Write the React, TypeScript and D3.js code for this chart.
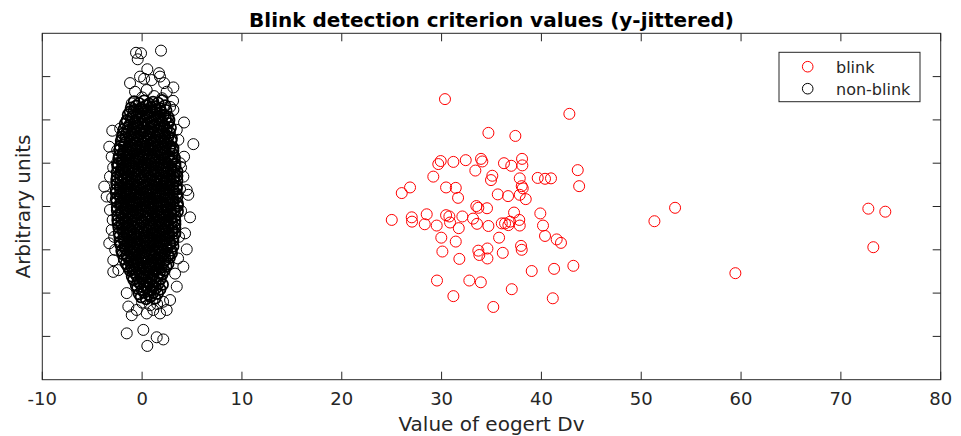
import React from "react";
import * as d3 from "d3";

// ---------- data ----------
const xTicks = [-10, 0, 10, 20, 30, 40, 50, 60, 70, 80];
const yTicks = [1, 2, 3, 4, 5, 6, 7];
const legendLabels = ["blink", "non-blink"];

// blink events: [Dv value, jittered y]
const blinkPoints: [number, number][] = [
  [30.34, 6.48], [42.8, 6.14], [34.69, 5.7], [37.39, 5.63], [29.91, 5.05], [29.67, 4.98],
  [31.18, 5.03], [32.42, 5.07], [33.95, 5.1], [34.08, 5.04], [33.38, 4.83], [36.25, 5.0],
  [36.98, 4.94], [38.06, 5.1], [38.09, 4.95], [43.64, 4.84], [29.17, 4.69], [35.08, 4.71],
  [34.95, 4.61], [37.83, 4.65], [39.63, 4.66], [40.36, 4.64], [40.96, 4.65], [43.78, 4.47],
  [26.84, 4.44], [26.01, 4.31], [30.45, 4.44], [31.42, 4.43], [31.65, 4.2], [38.03, 4.47],
  [38.13, 4.42], [35.63, 4.28], [36.66, 4.24], [37.83, 4.27], [38.43, 4.17], [33.48, 4.01],
  [33.68, 3.97], [34.55, 3.96], [37.26, 3.86], [39.89, 3.84], [25.01, 3.69], [27.01, 3.75],
  [27.04, 3.65], [28.51, 3.82], [28.31, 3.59], [29.51, 3.56], [30.45, 3.8], [30.78, 3.77],
  [30.85, 3.63], [31.72, 3.5], [32.08, 3.77], [33.15, 3.72], [33.55, 3.6], [34.69, 3.55],
  [36.03, 3.61], [36.36, 3.61], [36.69, 3.57], [36.86, 3.65], [37.78, 3.69], [37.83, 3.56],
  [40.16, 3.56], [29.97, 3.28], [31.42, 3.19], [35.76, 3.28], [40.36, 3.32], [41.53, 3.24],
  [41.96, 3.16], [30.08, 2.96], [31.78, 2.79], [33.68, 2.98], [33.78, 2.88], [34.59, 3.03],
  [34.59, 2.8], [36.13, 2.93], [37.96, 3.09], [38.03, 3.0], [39.03, 2.51], [41.27, 2.56],
  [43.2, 2.63], [29.54, 2.29], [32.78, 2.29], [33.93, 2.25], [37.03, 2.09], [31.18, 1.93],
  [41.14, 1.88], [35.18, 1.68], [51.32, 3.66], [53.39, 3.97], [59.43, 2.46], [72.75, 3.95],
  [74.45, 3.88], [73.25, 3.06],
];

// non-blink: loose points around the dense cluster
const nonBlinkOuter: [number, number][] = [
  [-0.61, 7.55], [-0.11, 7.54], [-0.44, 7.4], [1.89, 7.6], [0.52, 7.17], [1.69, 7.08],
  [-1.21, 6.85], [3.13, 6.75], [3.1, 6.44], [3.13, 6.23], [-2.99, 5.75], [-3.29, 5.38],
  [-3.05, 5.15], [5.13, 5.44], [4.2, 5.94], [4.2, 5.15], [-3.79, 4.46], [4.63, 4.27],
  [4.8, 3.75], [4.47, 3.01], [-3.29, 3.15], [-2.95, 3.69], [-2.89, 2.49], [-1.54, 1.07],
  [0.12, 1.15], [1.46, 0.98], [2.12, 0.93], [0.52, 0.78], [-0.21, 7.0], [0.96, 6.92],
  [1.79, 7.0], [-0.71, 6.65], [0.46, 6.69], [2.46, 6.65], [-1.04, 6.38], [2.8, 6.3],
  [-1.54, 6.0], [3.47, 5.77], [3.63, 5.54], [-2.04, 5.54], [-2.54, 5.0], [3.8, 5.0],
  [-3.22, 4.69], [4.13, 4.69], [-3.55, 4.23], [4.47, 4.38], [-3.22, 3.92], [-3.05, 3.46],
  [-2.89, 2.76], [-2.38, 2.53], [4.3, 3.38], [4.13, 2.61], [3.47, 2.15], [-1.38, 1.69],
  [-1.04, 1.49], [0.46, 1.53], [1.79, 1.53], [2.8, 1.84], [-1.54, 2.0], [-0.54, 1.61],
  [1.12, 1.61], [2.46, 1.61], [3.9, 4.9], [3.8, 4.4], [3.9, 3.9], [3.7, 3.3], [3.6, 2.8],
  [3.3, 2.45], [-2.9, 4.9], [-3.0, 4.2], [-2.8, 3.3], [-2.7, 3.0], [-2.5, 5.3], [-2.2, 5.8],
  [1.2, 6.55], [0.0, 6.52], [2.0, 6.5], [2.2, 6.85], [0.2, 6.95], [0.0, 1.78], [0.8, 1.72],
  [1.5, 1.75], [2.1, 1.8],
];

// non-blink: dense core of the cluster
const nonBlinkCore: [number, number][] = [
  [-0.8, 6.42], [-0.3, 6.38], [0.2, 6.44], [0.7, 6.37], [1.1, 6.41], [1.6, 6.39], [2.0, 6.45],
  [-1.1, 6.28], [-0.6, 6.32], [-0.1, 6.27], [0.4, 6.33], [0.9, 6.29], [1.3, 6.31], [1.8, 6.26], [2.3, 6.33],
  [-1.2, 6.19], [-0.8, 6.22], [-0.35, 6.18], [0.1, 6.23], [0.55, 6.17], [1.0, 6.21], [1.45, 6.24], [1.9, 6.18], [2.4, 6.22],
  [-1.4, 6.12], [-0.95, 6.08], [-0.5, 6.11], [-0.05, 6.07], [0.35, 6.13], [0.8, 6.09], [1.25, 6.12], [1.7, 6.08], [2.15, 6.11], [2.6, 6.07],
  [-1.5, 5.98], [-1.1, 6.03], [-0.7, 5.97], [-0.25, 6.02], [0.2, 5.99], [0.6, 6.04], [1.05, 5.97], [1.5, 6.01], [1.9, 5.98], [2.35, 6.03], [2.7, 5.99],
  [-1.7, 5.91], [-1.25, 5.88], [-0.8, 5.92], [-0.4, 5.87], [0.05, 5.91], [0.45, 5.89], [0.9, 5.93], [1.3, 5.88], [1.75, 5.9], [2.2, 5.87], [2.6, 5.92],
  [-1.8, 5.79], [-1.4, 5.82], [-0.95, 5.78], [-0.55, 5.81], [-0.1, 5.77], [0.3, 5.82], [0.75, 5.79], [1.15, 5.83], [1.6, 5.78], [2.0, 5.81], [2.45, 5.77], [2.85, 5.82],
  [-1.9, 5.68], [-1.5, 5.72], [-1.05, 5.67], [-0.65, 5.71], [-0.2, 5.69], [0.2, 5.73], [0.65, 5.67], [1.05, 5.71], [1.5, 5.68], [1.9, 5.72], [2.3, 5.67], [2.75, 5.71],
  [-2.0, 5.61], [-1.6, 5.58], [-1.2, 5.62], [-0.75, 5.57], [-0.35, 5.61], [0.1, 5.59], [0.5, 5.63], [0.9, 5.57], [1.35, 5.6], [1.75, 5.62], [2.2, 5.58], [2.6, 5.61], [2.95, 5.57],
  [-2.1, 5.52], [-1.7, 5.48], [-1.25, 5.51], [-0.85, 5.47], [-0.45, 5.53], [0.0, 5.49], [0.4, 5.51], [0.85, 5.47], [1.25, 5.52], [1.65, 5.48], [2.1, 5.51], [2.5, 5.47], [2.9, 5.52],
  [-2.2, 5.39], [-1.8, 5.42], [-1.35, 5.38], [-0.95, 5.41], [-0.55, 5.37], [-0.1, 5.42], [0.3, 5.39], [0.75, 5.43], [1.15, 5.38], [1.6, 5.41], [2.0, 5.37], [2.4, 5.42], [2.85, 5.39], [3.1, 5.35],
  [-2.25, 5.31], [-1.85, 5.27], [-1.45, 5.32], [-1.0, 5.28], [-0.6, 5.31], [-0.2, 5.27], [0.25, 5.32], [0.65, 5.29], [1.05, 5.33], [1.5, 5.28], [1.9, 5.31], [2.3, 5.27], [2.75, 5.32], [3.1, 5.29],
  [-2.3, 5.18], [-1.9, 5.22], [-1.5, 5.19], [-1.1, 5.23], [-0.65, 5.17], [-0.25, 5.21], [0.15, 5.18], [0.6, 5.22], [1.0, 5.17], [1.4, 5.21], [1.85, 5.19], [2.25, 5.23], [2.65, 5.17], [3.05, 5.21],
  [-2.35, 5.11], [-1.95, 5.08], [-1.55, 5.12], [-1.15, 5.07], [-0.7, 5.11], [-0.3, 5.09], [0.1, 5.13], [0.55, 5.08], [0.95, 5.11], [1.35, 5.07], [1.8, 5.12], [2.2, 5.09], [2.6, 5.13], [3.0, 5.08], [3.25, 5.12],
  [-2.4, 4.98], [-2.0, 5.02], [-1.6, 4.97], [-1.2, 5.01], [-0.8, 4.99], [-0.35, 5.03], [0.05, 4.97], [0.45, 5.01], [0.9, 4.98], [1.3, 5.02], [1.7, 4.97], [2.15, 5.01], [2.55, 4.99], [2.95, 5.03], [3.3, 4.98],
  [-2.45, 4.91], [-2.05, 4.87], [-1.65, 4.92], [-1.25, 4.88], [-0.85, 4.91], [-0.4, 4.87], [0.0, 4.92], [0.4, 4.89], [0.85, 4.93], [1.25, 4.88], [1.65, 4.91], [2.1, 4.87], [2.5, 4.92], [2.9, 4.88], [3.3, 4.91],
  [-2.5, 4.79], [-2.1, 4.82], [-1.7, 4.78], [-1.3, 4.81], [-0.9, 4.77], [-0.45, 4.82], [-0.05, 4.79], [0.35, 4.83], [0.8, 4.78], [1.2, 4.81], [1.6, 4.77], [2.05, 4.82], [2.45, 4.79], [2.85, 4.83], [3.25, 4.78], [3.5, 4.81],
  [-2.5, 4.68], [-2.1, 4.72], [-1.75, 4.67], [-1.35, 4.71], [-0.95, 4.69], [-0.5, 4.73], [-0.1, 4.67], [0.3, 4.71], [0.75, 4.68], [1.15, 4.72], [1.55, 4.67], [2.0, 4.71], [2.4, 4.69], [2.8, 4.73], [3.2, 4.67], [3.5, 4.71],
  [-2.55, 4.61], [-2.15, 4.58], [-1.75, 4.62], [-1.4, 4.57], [-1.0, 4.61], [-0.55, 4.59], [-0.15, 4.63], [0.25, 4.57], [0.7, 4.6], [1.1, 4.62], [1.5, 4.58], [1.95, 4.61], [2.35, 4.57], [2.75, 4.62], [3.15, 4.59], [3.5, 4.6],
  [-2.55, 4.52], [-2.2, 4.48], [-1.8, 4.51], [-1.4, 4.47], [-1.0, 4.53], [-0.6, 4.49], [-0.2, 4.51], [0.2, 4.47], [0.65, 4.52], [1.05, 4.48], [1.45, 4.51], [1.9, 4.47], [2.3, 4.53], [2.7, 4.49], [3.1, 4.51], [3.45, 4.47],
  [-2.6, 4.39], [-2.2, 4.42], [-1.85, 4.38], [-1.45, 4.41], [-1.05, 4.37], [-0.6, 4.42], [-0.2, 4.39], [0.2, 4.43], [0.6, 4.38], [1.05, 4.41], [1.45, 4.37], [1.85, 4.42], [2.25, 4.39], [2.7, 4.43], [3.1, 4.38], [3.45, 4.41],
  [-2.6, 4.31], [-2.25, 4.27], [-1.85, 4.32], [-1.45, 4.28], [-1.05, 4.31], [-0.65, 4.27], [-0.25, 4.32], [0.15, 4.29], [0.6, 4.33], [1.0, 4.28], [1.4, 4.31], [1.8, 4.27], [2.25, 4.32], [2.65, 4.28], [3.05, 4.31], [3.45, 4.29],
  [-2.6, 4.18], [-2.2, 4.22], [-1.8, 4.19], [-1.4, 4.23], [-1.0, 4.17], [-0.6, 4.21], [-0.2, 4.18], [0.2, 4.22], [0.65, 4.17], [1.05, 4.21], [1.45, 4.19], [1.85, 4.23], [2.3, 4.17], [2.7, 4.21], [3.1, 4.18], [3.5, 4.22],
  [-2.55, 4.11], [-2.15, 4.08], [-1.75, 4.12], [-1.35, 4.07], [-0.95, 4.11], [-0.55, 4.09], [-0.15, 4.13], [0.25, 4.08], [0.7, 4.11], [1.1, 4.07], [1.5, 4.12], [1.9, 4.09], [2.35, 4.13], [2.75, 4.08], [3.15, 4.11], [3.55, 4.07],
  [-2.5, 3.98], [-2.1, 4.02], [-1.7, 3.97], [-1.3, 4.01], [-0.9, 3.99], [-0.5, 4.03], [-0.1, 3.97], [0.3, 4.01], [0.75, 3.98], [1.15, 4.02], [1.55, 3.97], [1.95, 4.01], [2.4, 3.99], [2.8, 4.03], [3.2, 3.97], [3.55, 4.01],
  [-2.5, 3.91], [-2.1, 3.87], [-1.7, 3.92], [-1.3, 3.88], [-0.9, 3.91], [-0.45, 3.87], [-0.05, 3.92], [0.35, 3.89], [0.8, 3.93], [1.2, 3.88], [1.6, 3.91], [2.0, 3.87], [2.45, 3.92], [2.85, 3.88], [3.25, 3.91], [3.55, 3.89],
  [-2.45, 3.79], [-2.05, 3.82], [-1.65, 3.78], [-1.25, 3.81], [-0.85, 3.77], [-0.4, 3.82], [0.0, 3.79], [0.4, 3.83], [0.85, 3.78], [1.25, 3.81], [1.65, 3.77], [2.05, 3.82], [2.5, 3.79], [2.9, 3.83], [3.3, 3.78],
  [-2.45, 3.68], [-2.05, 3.72], [-1.65, 3.67], [-1.25, 3.71], [-0.8, 3.69], [-0.4, 3.73], [0.0, 3.67], [0.45, 3.71], [0.85, 3.68], [1.25, 3.72], [1.7, 3.67], [2.1, 3.71], [2.5, 3.69], [2.9, 3.73], [3.3, 3.67],
  [-2.4, 3.61], [-2.0, 3.58], [-1.6, 3.62], [-1.2, 3.57], [-0.8, 3.61], [-0.35, 3.59], [0.05, 3.63], [0.45, 3.57], [0.9, 3.6], [1.3, 3.62], [1.7, 3.58], [2.1, 3.61], [2.55, 3.57], [2.95, 3.62], [3.3, 3.59],
  [-2.35, 3.52], [-1.95, 3.48], [-1.55, 3.51], [-1.15, 3.47], [-0.75, 3.53], [-0.3, 3.49], [0.1, 3.51], [0.5, 3.47], [0.95, 3.52], [1.35, 3.48], [1.75, 3.51], [2.15, 3.47], [2.6, 3.53], [3.0, 3.49], [3.3, 3.51],
  [-2.3, 3.39], [-1.9, 3.42], [-1.5, 3.38], [-1.1, 3.41], [-0.7, 3.37], [-0.25, 3.42], [0.15, 3.39], [0.55, 3.43], [1.0, 3.38], [1.4, 3.41], [1.8, 3.37], [2.2, 3.42], [2.65, 3.39], [3.05, 3.43], [3.3, 3.38],
  [-2.25, 3.31], [-1.85, 3.27], [-1.45, 3.32], [-1.05, 3.28], [-0.6, 3.31], [-0.2, 3.27], [0.2, 3.32], [0.6, 3.29], [1.05, 3.33], [1.45, 3.28], [1.85, 3.31], [2.25, 3.27], [2.7, 3.32], [3.1, 3.28],
  [-2.2, 3.18], [-1.8, 3.22], [-1.4, 3.19], [-0.95, 3.23], [-0.55, 3.17], [-0.15, 3.21], [0.25, 3.18], [0.7, 3.22], [1.1, 3.17], [1.5, 3.21], [1.9, 3.19], [2.35, 3.23], [2.75, 3.17], [3.1, 3.21],
  [-2.15, 3.11], [-1.75, 3.08], [-1.3, 3.12], [-0.9, 3.07], [-0.5, 3.11], [-0.1, 3.09], [0.35, 3.13], [0.75, 3.08], [1.15, 3.11], [1.55, 3.07], [2.0, 3.12], [2.4, 3.09], [2.8, 3.13], [3.1, 3.08],
  [-2.05, 2.98], [-1.65, 3.02], [-1.25, 2.97], [-0.85, 3.01], [-0.4, 2.99], [0.0, 3.03], [0.4, 2.97], [0.85, 3.01], [1.25, 2.98], [1.65, 3.02], [2.1, 2.97], [2.5, 3.01], [2.9, 2.99],
  [-1.95, 2.91], [-1.55, 2.87], [-1.15, 2.92], [-0.7, 2.88], [-0.3, 2.91], [0.1, 2.87], [0.55, 2.92], [0.95, 2.89], [1.35, 2.93], [1.8, 2.88], [2.2, 2.91], [2.6, 2.87], [2.95, 2.92],
  [-1.8, 2.79], [-1.4, 2.82], [-1.0, 2.78], [-0.6, 2.81], [-0.15, 2.77], [0.25, 2.82], [0.65, 2.79], [1.1, 2.83], [1.5, 2.78], [1.9, 2.81], [2.35, 2.77], [2.75, 2.82],
  [-1.6, 2.68], [-1.2, 2.72], [-0.8, 2.67], [-0.35, 2.71], [0.05, 2.69], [0.45, 2.73], [0.9, 2.67], [1.3, 2.71], [1.7, 2.68], [2.15, 2.72], [2.6, 2.67],
  [-1.4, 2.61], [-1.0, 2.58], [-0.6, 2.62], [-0.15, 2.57], [0.25, 2.61], [0.7, 2.59], [1.1, 2.63], [1.5, 2.57], [1.95, 2.6], [2.4, 2.62],
  [-1.2, 2.52], [-0.8, 2.48], [-0.35, 2.51], [0.05, 2.47], [0.5, 2.53], [0.9, 2.49], [1.3, 2.51], [1.75, 2.47], [2.2, 2.52],
  [-1.0, 2.39], [-0.6, 2.42], [-0.15, 2.38], [0.25, 2.41], [0.7, 2.37], [1.1, 2.42], [1.55, 2.39], [2.0, 2.43],
  [-0.85, 2.31], [-0.4, 2.27], [0.0, 2.32], [0.45, 2.28], [0.9, 2.31], [1.35, 2.27], [1.8, 2.32],
  [-0.6, 2.18], [-0.2, 2.22], [0.25, 2.19], [0.7, 2.23], [1.15, 2.17], [1.6, 2.21], [2.05, 2.2],
  [-0.45, 2.11], [0.0, 2.08], [0.45, 2.12], [0.9, 2.07], [1.35, 2.11], [1.8, 2.09],
  [-0.3, 1.98], [0.2, 2.02], [0.65, 1.97], [1.1, 2.01], [1.55, 1.99],
  [-0.1, 1.91], [0.4, 1.87], [0.85, 1.92], [1.3, 1.88],
];

// ---------- layout ----------
const W = 961;
const H = 436;
const left = 42.3;
const right = 940.7;
const top = 33.3;
const bottom = 379.7;
const tickLen = 8;
const axisColor = "#262626";
const font = "'DejaVu Sans', sans-serif";
const R = 5.5;

export default function App() {
  const x = d3.scaleLinear().domain([-10, 80]).range([left, right]);
  const y = d3.scaleLinear().domain([0, 8]).range([bottom, top]);

  return (
    <svg
      width={W}
      height={H}
      viewBox={`0 0 ${W} ${H}`}
      style={{ position: "absolute", left: 0, top: 0, background: "#fff" }}
    >
      <rect x={0} y={0} width={W} height={H} fill="#fff" />

      <defs>
        <clipPath id="plotclip">
          <rect x={left} y={top} width={right - left} height={bottom - top} />
        </clipPath>
      </defs>

      <g clipPath="url(#plotclip)">
        {blinkPoints.map((d, i) => (
          <circle key={"b" + i} cx={x(d[0])} cy={y(d[1])} r={R} fill="none" stroke="#ff0000" strokeWidth={1} />
        ))}
        {nonBlinkCore.map((d, i) => (
          <circle key={"c" + i} cx={x(d[0])} cy={y(d[1])} r={R} fill="none" stroke="#000" strokeWidth={1.7} />
        ))}
        {nonBlinkOuter.map((d, i) => (
          <circle key={"o" + i} cx={x(d[0])} cy={y(d[1])} r={R} fill="none" stroke="#000" strokeWidth={1} />
        ))}
      </g>

      {/* axes box */}
      <rect x={left} y={top} width={right - left} height={bottom - top} fill="none" stroke={axisColor} strokeWidth={1} />

      {/* x ticks */}
      {xTicks.map((t) => (
        <g key={"xt" + t}>
          <line x1={x(t)} x2={x(t)} y1={bottom} y2={bottom - tickLen} stroke={axisColor} />
          <line x1={x(t)} x2={x(t)} y1={top} y2={top + tickLen} stroke={axisColor} />
          <text x={x(t)} y={405} textAnchor="middle" fontFamily={font} fontSize={18} fill={axisColor}>
            {t}
          </text>
        </g>
      ))}

      {/* y ticks (no labels) */}
      {yTicks.map((t) => (
        <g key={"yt" + t}>
          <line x1={left} x2={left + tickLen} y1={y(t)} y2={y(t)} stroke={axisColor} />
          <line x1={right} x2={right - tickLen} y1={y(t)} y2={y(t)} stroke={axisColor} />
        </g>
      ))}

      {/* title */}
      <text x={(left + right) / 2} y={26.5} textAnchor="middle" fontFamily={font} fontSize={20} fontWeight="bold" fill="#000">
        Blink detection criterion values (y-jittered)
      </text>

      {/* axis labels */}
      <text x={(left + right) / 2} y={430.5} textAnchor="middle" fontFamily={font} fontSize={20} fill={axisColor}>
        Value of eogert Dv
      </text>
      <text
        transform={`translate(29.5, ${(top + bottom) / 2}) rotate(-90)`}
        textAnchor="middle"
        fontFamily={font}
        fontSize={20}
        fill={axisColor}
      >
        Arbitrary units
      </text>

      {/* legend */}
      <g>
        <rect x={779} y={52.3} width={141} height={49.4} fill="#fff" stroke={axisColor} strokeWidth={1} />
        {legendLabels.map((lab, i) => (
          <g key={lab}>
            <circle cx={807.7} cy={66.7 + i * 22} r={5.3} fill="none" stroke={i === 0 ? "#ff0000" : "#000"} strokeWidth={1} />
            <text x={836} y={66.7 + i * 22 + 5.8} fontFamily={font} fontSize={16} fill={axisColor}>
              {lab}
            </text>
          </g>
        ))}
      </g>
    </svg>
  );
}
